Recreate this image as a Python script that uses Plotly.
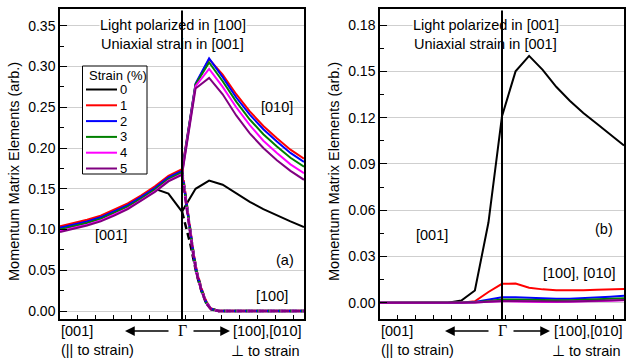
import numpy as np
import plotly.graph_objects as go

W, H = 626, 360
def px(x): return x / W
def py(y): return 1 - y / H

# ---------------- data ----------------
k_grid = list(np.linspace(-1, 1, 19))          # sample positions, Gamma at 0
strain_labels = ["0", "1", "2", "3", "4", "5"]
colors = ["#000000", "#ff0000", "#0000ff", "#008000", "#ff00ff", "#800080"]

# panel (a): light polarized in [100]; solid = [001] (left) / [010] (right)
a_black   = [0.102, 0.106, 0.110, 0.115, 0.122, 0.130, 0.140, 0.150, 0.144, 0.122,
             0.150, 0.160, 0.155, 0.144, 0.134, 0.125, 0.117, 0.110, 0.103]
a_red     = [0.104, 0.108, 0.112, 0.117, 0.124, 0.132, 0.142, 0.153, 0.166, 0.174,
             0.278, 0.309, 0.290, 0.266, 0.245, 0.227, 0.212, 0.198, 0.187]
a_blue    = [0.102, 0.106, 0.110, 0.115, 0.122, 0.130, 0.140, 0.151, 0.164, 0.172,
             0.279, 0.310, 0.287, 0.262, 0.241, 0.223, 0.208, 0.194, 0.183]
a_green   = [0.100, 0.104, 0.108, 0.113, 0.120, 0.128, 0.138, 0.149, 0.162, 0.170,
             0.278, 0.305, 0.282, 0.257, 0.235, 0.217, 0.202, 0.188, 0.177]
a_magenta = [0.098, 0.102, 0.106, 0.111, 0.118, 0.126, 0.136, 0.147, 0.160, 0.168,
             0.276, 0.297, 0.275, 0.250, 0.228, 0.209, 0.194, 0.180, 0.169]
a_purple  = [0.097, 0.101, 0.105, 0.110, 0.117, 0.125, 0.135, 0.146, 0.159, 0.167,
             0.273, 0.286, 0.266, 0.240, 0.218, 0.200, 0.185, 0.172, 0.161]

# panel (a) dashed: [100] component on the right side
d_grid    = [0.0, 0.04, 0.067, 0.093, 0.12, 0.16, 0.20, 0.24, 0.30, 1.0]
d_black   = [0.122, 0.100, 0.083, 0.064, 0.045, 0.024, 0.009, 0.002, 0.0, 0.0]
d_red     = [0.174, 0.126, 0.100, 0.072, 0.049, 0.027, 0.011, 0.003, 0.0, 0.0]
d_blue    = [0.172, 0.125, 0.099, 0.071, 0.048, 0.026, 0.010, 0.0025, 0.0, 0.0]
d_green   = [0.170, 0.124, 0.099, 0.071, 0.048, 0.026, 0.010, 0.0025, 0.0, 0.0]
d_magenta = [0.168, 0.123, 0.098, 0.070, 0.047, 0.025, 0.010, 0.002, 0.0, 0.0]
d_purple  = [0.167, 0.122, 0.097, 0.069, 0.046, 0.025, 0.009, 0.002, 0.0, 0.0]

# panel (b): light polarized in [001]
b_black   = [0, 0, 0, 0, 0, 0, 0.0015, 0.008, 0.052, 0.121,
             0.150, 0.160, 0.151, 0.140, 0.131, 0.123, 0.116, 0.109, 0.102]
b_red     = [0, 0, 0, 0, 0, 0, 0, 0.001, 0.007, 0.0123,
             0.0125, 0.0098, 0.0087, 0.0082, 0.0081, 0.0082, 0.0085, 0.0088, 0.009]
b_blue    = [0, 0, 0, 0, 0, 0, 0, 0.0005, 0.002, 0.0036,
             0.0036, 0.0032, 0.0028, 0.0026, 0.0027, 0.0030, 0.0034, 0.0040, 0.0046]
b_green   = [0, 0, 0, 0, 0, 0, 0, 0.0003, 0.0012, 0.0022,
             0.0022, 0.0019, 0.0017, 0.0016, 0.0017, 0.0019, 0.0022, 0.0026, 0.0030]
b_magenta = [0, 0, 0, 0, 0, 0, 0, 0.0002, 0.0006, 0.0010,
             0.0009, 0.0006, 0.0005, 0.0005, 0.0006, 0.0008, 0.0010, 0.0013, 0.0016]
b_purple  = [0, 0, 0, 0, 0, 0, 0, 0.0002, 0.0006, 0.0011,
             0.0011, 0.0009, 0.0008, 0.0008, 0.0009, 0.0010, 0.0012, 0.0015, 0.0018]

a_solid = [a_black, a_red, a_blue, a_green, a_magenta, a_purple]
a_dash = [d_black, d_red, d_blue, d_green, d_magenta, d_purple]
b_solid = [b_black, b_red, b_blue, b_green, b_magenta, b_purple]

gamma_x = 0.0
ya_range = [-0.0098, 0.3706]
yb_range = [-0.0105, 0.1904]

FONT = "Liberation Sans, Arial, sans-serif"

# ---------------- figure ----------------
fig = go.Figure()
for lab, c, ys in zip(strain_labels, colors, a_solid):
    fig.add_trace(go.Scatter(x=k_grid, y=ys, mode="lines", name=lab,
                             line=dict(color=c, width=2), xaxis="x", yaxis="y",
                             showlegend=False))
for lab, c, ys in zip(strain_labels, colors, a_dash):
    fig.add_trace(go.Scatter(x=d_grid, y=ys, mode="lines", name=lab,
                             line=dict(color=c, width=2.5, dash="7px,4px"),
                             xaxis="x", yaxis="y", showlegend=False))
for lab, c, ys in zip(strain_labels, colors, b_solid):
    fig.add_trace(go.Scatter(x=k_grid, y=ys, mode="lines", name=lab,
                             line=dict(color=c, width=2), xaxis="x2", yaxis="y2",
                             showlegend=False))

def xax(dom, anchor):
    return dict(domain=dom, range=[-1, 1], anchor=anchor, showline=True, mirror=True,
                linecolor="black", linewidth=1.5, showgrid=False, zeroline=False,
                showticklabels=False, ticks="inside", ticklen=4, tickcolor="black",
                tick0=-1, dtick=0.147, tickwidth=1)

def yax(rng, dt, anchor):
    return dict(domain=[py(319), py(9)], range=rng, anchor=anchor, showline=True,
                mirror=True, linecolor="black", linewidth=1.5, showgrid=True,
                gridcolor="#cfcfcf", gridwidth=1, zeroline=False, ticks="inside",
                ticklen=7, tickwidth=1.2, tickcolor="black", tick0=0, dtick=dt,
                tickformat=".2f", tickfont=dict(size=14, color="black", family=FONT),
                minor=dict(ticks="inside", ticklen=4, tickcolor="black", dtick=dt / 2,
                           showgrid=False, tick0=0))

fig.update_layout(
    width=W, height=H, margin=dict(l=0, r=0, t=0, b=0),
    paper_bgcolor="white", plot_bgcolor="white",
    font=dict(family=FONT, size=14, color="black"),
    xaxis=xax([px(60), px(304)], "y"),
    yaxis=yax(ya_range, 0.05, "x"),
    xaxis2=xax([px(380), px(624)], "y2"),
    yaxis2=yax(yb_range, 0.03, "x2"),
)

ann = []
def txt(t, x, y, xanchor="left", size=14.5, bg=None, family=FONT):
    d = dict(text=t, x=px(x), y=py(y), xref="paper", yref="paper", showarrow=False,
             xanchor=xanchor, yanchor="middle", font=dict(size=size, family=family, color="black"))
    if bg:
        d["bgcolor"] = bg
        d["borderpad"] = 0
    ann.append(d)

# panel titles
txt("Light polarized in [100]", 99, 25, bg="white")
txt("Uniaxial strain in [001]", 99, 44)
txt("Light polarized in [001]", 412, 25, bg="white")
txt("Uniaxial strain in [001]", 412, 44)

# in-plot labels
txt("[010]", 259, 107)
txt("[001]", 93, 235)
txt("(a)", 274, 260)
txt("[100]", 254, 296)
txt("[001]", 414, 235)
txt("(b)", 593, 229)
txt("[100], [010]", 541, 273)

# axis titles
for xc in (14, 334):
    ann.append(dict(text="Momentum Matrix Elements (arb.)", x=px(xc), y=py(172),
                    xref="paper", yref="paper", showarrow=False, textangle=-90,
                    xanchor="center", yanchor="middle",
                    font=dict(size=14.5, family=FONT, color="black")))

# x-axis descriptive labels
for off, rgt in ((0, 304), (320, 625)):
    txt("[001]", 59 + off, 331)
    txt("(|| to strain)", 59 + off, 350)
    txt("[100],[010]", rgt, 331, xanchor="right")
    txt("\u22a5 to strain", rgt - 2, 351, xanchor="right")
    ann.append(dict(text="\u0393", x=px(182 + off), y=py(330), xref="paper", yref="paper",
                    showarrow=False, xanchor="center", yanchor="middle",
                    font=dict(size=16, family="Liberation Serif, serif", color="black")))
    # arrows
    ann.append(dict(text="", x=px(125 + off), y=py(331), xref="paper", yref="paper",
                    ax=45, ay=0, showarrow=True, arrowhead=2, arrowsize=1.5,
                    arrowwidth=1.3, arrowcolor="black"))
    ann.append(dict(text="", x=px(230 + off), y=py(331), xref="paper", yref="paper",
                    ax=-38, ay=0, showarrow=True, arrowhead=2, arrowsize=1.5,
                    arrowwidth=1.3, arrowcolor="black"))

# Gamma vertical lines (drawn above the title boxes)
for xr, yr, rng in (("x", "y", ya_range), ("x2", "y2", yb_range)):
    ann.append(dict(text="", x=gamma_x, y=rng[0], xref=xr, yref=yr,
                    ax=gamma_x, ay=rng[1], axref=xr, ayref=yr, showarrow=True,
                    arrowhead=0, arrowwidth=2, arrowcolor="black", standoff=0,
                    startstandoff=0))

# legend (panel a)
shapes = [dict(type="rect", xref="paper", yref="paper", x0=px(82.5), x1=px(147),
               y0=py(174), y1=py(66), line=dict(color="black", width=1),
               fillcolor="white", layer="above")]
ann.append(dict(text="Strain (%)", x=px(87), y=py(75), xref="paper", yref="paper",
                showarrow=False, xanchor="left", yanchor="middle",
                font=dict(size=13, family=FONT, color="black")))
for i, (lab, c) in enumerate(zip(strain_labels, colors)):
    yc = 89.5 + 15.8 * i
    shapes.append(dict(type="line", xref="paper", yref="paper", x0=px(86), x1=px(117),
                       y0=py(yc), y1=py(yc), line=dict(color=c, width=2), layer="above"))
    ann.append(dict(text=lab, x=px(117.5), y=py(yc), xref="paper", yref="paper",
                    showarrow=False, xanchor="left", yanchor="middle",
                    font=dict(size=13, family=FONT, color="black")))

fig.update_layout(annotations=ann, shapes=shapes)
fig.write_html("out.html")
